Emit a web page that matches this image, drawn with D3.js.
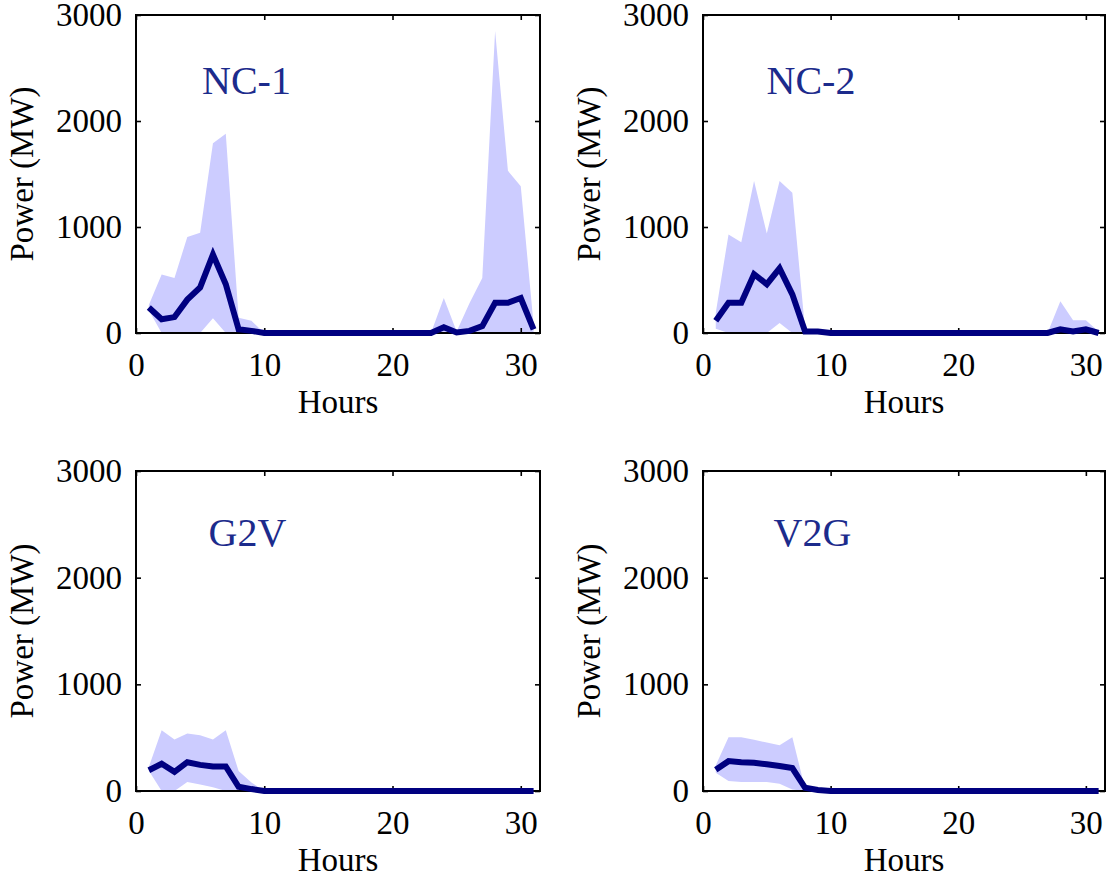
<!DOCTYPE html>
<html>
<head>
<meta charset="utf-8">
<script src="https://cdn.jsdelivr.net/npm/d3@7"></script>
<style>
  html, body { margin: 0; padding: 0; background: #fff; }
  svg { display: block; }
  text { font-family: "Liberation Serif", "Times New Roman", serif; }
</style>
</head>
<body>
<svg id="chart" width="1107" height="879"></svg>
<script>
// Hourly EV charging power per strategy: mean (line) and min/max envelope (band), MW
const hours = [1,2,3,4,5,6,7,8,9,10,11,12,13,14,15,16,17,18,19,20,21,22,23,24,25,26,27,28,29,30,31];

const nc1Mean  = [240,130,150,315,430,740,460,35,20,0,0,0,0,0,0,0,0,0,0,0,0,0,0,55,5,20,65,285,285,330,35];
const nc1Upper = [265,552,520,905,945,1790,1880,145,115,0,0,0,0,0,0,0,0,0,0,0,0,0,0,330,15,280,520,2850,1530,1385,80];
const nc1Lower = [215,0,0,0,0,140,0,0,0,0,0,0,0,0,0,0,0,0,0,0,0,0,0,0,0,0,0,0,0,0,0];

const nc2Mean  = [115,285,285,555,460,610,365,15,15,0,0,0,0,0,0,0,0,0,0,0,0,0,0,0,0,0,0,35,15,35,0];
const nc2Upper = [190,930,857,1434,939,1434,1324,30,0,0,0,0,0,0,0,0,0,0,0,0,0,0,0,0,0,0,0,299,120,120,15];
const nc2Lower = [40,0,0,0,0,95,0,0,0,0,0,0,0,0,0,0,0,0,0,0,0,0,0,0,0,0,0,0,0,0,0];

const g2vMean  = [195,255,180,270,245,230,230,40,18,0,0,0,0,0,0,0,0,0,0,0,0,0,0,0,0,0,0,0,0,0,0];
const g2vUpper = [225,570,483,539,523,483,570,187,80,0,0,0,0,0,0,0,0,0,0,0,0,0,0,0,0,0,0,0,0,0,0];
const g2vLower = [190,0,0,84,60,35,0,0,0,0,0,0,0,0,0,0,0,0,0,0,0,0,0,0,0,0,0,0,0,0,0];

const v2gMean  = [200,280,270,265,250,235,215,30,10,0,0,0,0,0,0,0,0,0,0,0,0,0,0,0,0,0,0,0,0,0,0];
const v2gUpper = [240,505,505,480,455,430,505,20,0,0,0,0,0,0,0,0,0,0,0,0,0,0,0,0,0,0,0,0,0,0,0];
const v2gLower = [170,94,84,84,84,68,15,0,0,0,0,0,0,0,0,0,0,0,0,0,0,0,0,0,0,0,0,0,0,0,0];

const panelTitles = ["NC-1", "NC-2", "G2V", "V2G"];
const xTicks = [0, 10, 20, 30];
const yTicks = [0, 1000, 2000, 3000];
const xDomain = [0, 31.5];
const yDomain = [0, 3000];
const xLabel = "Hours";
const yLabel = "Power (MW)";

const seriesByPanel = [
  { mean: nc1Mean, upper: nc1Upper, lower: nc1Lower },
  { mean: nc2Mean, upper: nc2Upper, lower: nc2Lower },
  { mean: g2vMean, upper: g2vUpper, lower: g2vLower },
  { mean: v2gMean, upper: v2gUpper, lower: v2gLower }
];

// Axes boxes in pixels and where each title sits inside its box
const layout = [
  { left: 136, right: 540,  top: 15,  bottom: 333, titleDx: 66,   titleDy: 79 },
  { left: 703, right: 1105, top: 15,  bottom: 333, titleDx: 63.5, titleDy: 79 },
  { left: 136, right: 540,  top: 471, bottom: 791, titleDx: 72.5, titleDy: 75 },
  { left: 703, right: 1105, top: 471, bottom: 791, titleDx: 70.5, titleDy: 75 }
];

const colors = { band: "#ccccff", line: "#000080", title: "#1c2b8c", axis: "#000" };
const tickFont = 33, labelFont = 33, titleFont = 40, tickLen = 5;

const svg = d3.select("#chart");

layout.forEach((box, i) => {
  const s = seriesByPanel[i];
  const x = d3.scaleLinear().domain(xDomain).range([box.left, box.right]);
  const y = d3.scaleLinear().domain(yDomain).range([box.bottom, box.top]);
  const g = svg.append("g");

  const clipId = "clip" + i;
  g.append("clipPath").attr("id", clipId)
    .append("rect")
    .attr("x", box.left).attr("y", box.top)
    .attr("width", box.right - box.left).attr("height", box.bottom - box.top);

  const rows = hours.map((h, k) => ({ h, m: s.mean[k], lo: s.lower[k], hi: s.upper[k] }));

  // min/max envelope
  g.append("path")
    .datum(rows)
    .attr("clip-path", `url(#${clipId})`)
    .attr("fill", colors.band)
    .attr("d", d3.area().x(d => x(d.h)).y0(d => y(d.lo)).y1(d => y(d.hi)));

  // axes: inward ticks on all four sides
  const bottomAxis = d3.axisBottom(x).tickValues(xTicks).tickSizeInner(-tickLen).tickSizeOuter(0).tickPadding(20);
  const topAxis = d3.axisTop(x).tickValues(xTicks).tickSizeInner(-tickLen).tickSizeOuter(0).tickFormat("");
  const leftAxis = d3.axisLeft(y).tickValues(yTicks).tickSizeInner(-tickLen).tickSizeOuter(0).tickPadding(14).tickFormat(d3.format("d"));
  const rightAxis = d3.axisRight(y).tickValues(yTicks).tickSizeInner(-tickLen).tickSizeOuter(0).tickFormat("");

  const styleAxis = sel => {
    sel.select(".domain").remove();
    sel.selectAll(".tick line").attr("stroke", colors.axis).attr("stroke-width", 1.6);
    sel.selectAll(".tick text")
      .attr("fill", colors.axis)
      .style("font-family", '"Liberation Serif", "Times New Roman", serif')
      .style("font-size", tickFont + "px");
  };

  g.append("g").attr("transform", `translate(0,${box.bottom})`).call(bottomAxis).call(styleAxis);
  g.append("g").attr("transform", `translate(0,${box.top})`).call(topAxis).call(styleAxis);
  g.append("g").attr("transform", `translate(${box.left},0)`).call(leftAxis).call(styleAxis);
  g.append("g").attr("transform", `translate(${box.right},0)`).call(rightAxis).call(styleAxis);

  g.append("rect")
    .attr("x", box.left).attr("y", box.top)
    .attr("width", box.right - box.left).attr("height", box.bottom - box.top)
    .attr("fill", "none").attr("stroke", colors.axis).attr("stroke-width", 2);

  // mean power
  g.append("path")
    .datum(rows)
    .attr("fill", "none")
    .attr("stroke", colors.line)
    .attr("stroke-width", 6)
    .attr("stroke-linejoin", "miter")
    .attr("d", d3.line().x(d => x(d.h)).y(d => y(d.m)));

  // panel title
  g.append("text")
    .attr("x", box.left + box.titleDx)
    .attr("y", box.top + box.titleDy)
    .attr("fill", colors.title)
    .style("font-size", titleFont + "px")
    .text(panelTitles[i]);

  // axis titles
  g.append("text")
    .attr("x", (box.left + box.right) / 2)
    .attr("y", box.bottom + 80)
    .attr("text-anchor", "middle")
    .style("font-size", labelFont + "px")
    .text(xLabel);

  const cy = (box.top + box.bottom) / 2;
  g.append("text")
    .attr("transform", `translate(${box.left - 103},${cy}) rotate(-90)`)
    .attr("text-anchor", "middle")
    .style("font-size", labelFont + "px")
    .text(yLabel);
});
</script>
</body>
</html>
